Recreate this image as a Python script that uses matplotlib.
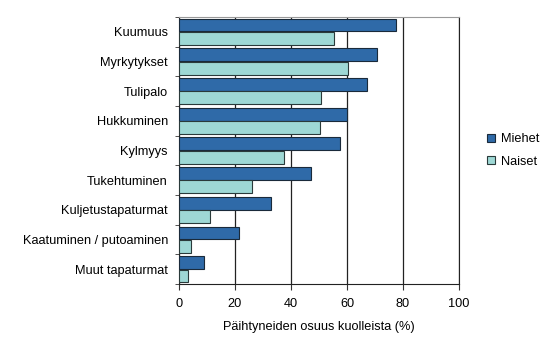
import numpy as np
import matplotlib
matplotlib.use('Agg')
import matplotlib.pyplot as plt

plt.rcParams['font.family'] = ['Liberation Sans', 'DejaVu Sans']

# Categories from top to bottom
categories = ['Kuumuus', 'Myrkytykset', 'Tulipalo', 'Hukkuminen', 'Kylmyys',
              'Tukehtuminen', 'Kuljetustapaturmat', 'Kaatuminen / putoaminen',
              'Muut tapaturmat']
miehet = [77.5, 70.8, 67.3, 60.0, 57.6, 47.0, 32.7, 21.3, 9.0]
naiset = [55.5, 60.5, 50.6, 50.2, 37.6, 26.0, 11.0, 4.2, 3.3]
xticks = [0, 20, 40, 60, 80, 100]

fs = 9.2
fig = plt.figure(figsize=(5.55, 3.39), dpi=100)
ax = fig.add_axes([0.3225, 0.162, 0.5045, 0.788])

y = np.arange(len(categories))
h = 0.43
ax.barh(y - 0.225, miehet, height=h, color='#2f6aa8', edgecolor='#1a2a3a',
        linewidth=0.8, label='Miehet', zorder=3)
ax.barh(y + 0.225, naiset, height=h, color='#9ed8d5', edgecolor='#2a3a3a',
        linewidth=0.8, label='Naiset', zorder=3)

ax.set_xlim(0, 100)
ax.set_ylim(len(categories) - 0.5, -0.5)
ax.set_xticks(xticks)
ax.set_xticklabels([str(t) for t in xticks], fontsize=fs)
ax.set_yticks(y)
ax.set_yticklabels(categories, fontsize=fs)
ax.tick_params(axis='y', length=0, pad=8)
ax.set_yticks(np.arange(len(categories) + 1) - 0.5, minor=True)
ax.tick_params(axis='y', which='minor', length=3, color='#333333')
ax.tick_params(axis='x', length=4, direction='out', color='#333333', pad=6)
ax.xaxis.grid(True, color='#222222', linewidth=0.9, zorder=0)
ax.set_xlabel('Päihtyneiden osuus kuolleista (%)', fontsize=fs, labelpad=8)

ax.spines['top'].set_color('#999999')
ax.spines['right'].set_color('#222222')
ax.spines['left'].set_color('#222222')
ax.spines['bottom'].set_color('#222222')

ax.legend(loc='center left', bbox_to_anchor=(1.06, 0.5), frameon=False,
          fontsize=fs, handlelength=0.6, handleheight=0.6, handletextpad=0.5,
          labelspacing=0.8)

fig.savefig('out.png', dpi=100)
